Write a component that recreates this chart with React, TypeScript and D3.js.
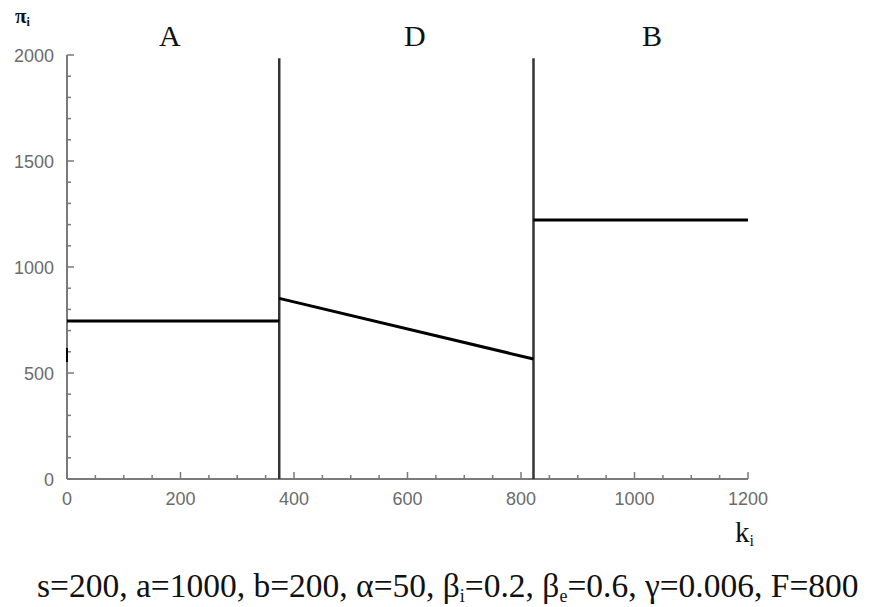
import React from "react";
import * as d3 from "d3";

const W = 875;
const H = 607;

// Data (k_i, pi_i)
const boundaries = [374, 822];
const boundaryTop = 1985;
const segA = [[0, 745], [374, 745]];
const segD = [[374, 852], [822, 566]];
const segB = [[822, 1222], [1200, 1222]];
const stub = [[0, 552], [0, 618]];
const regionNames = ["A", "D", "B"];
const regionK = [181, 613, 1031];
const xTicks = [0, 200, 400, 600, 800, 1000, 1200];
const yTicks = [0, 500, 1000, 1500, 2000];
const caption = "s=200, a=1000, b=200, α=50, β";

export default function App() {
  const x = d3.scaleLinear().domain([0, 1200]).range([67, 748]);
  const y = d3.scaleLinear().domain([0, 2000]).range([479, 55]);
  const line = d3.line<number[]>().x((d) => x(d[0])).y((d) => y(d[1]));
  const xMinor = d3.range(0, 1201, 50);
  const yMinor = d3.range(0, 2001, 100);
  const axisColor = "#7a7a7a";
  const tickColor = "#6b6b6b";
  const serif = "'Liberation Serif', 'DejaVu Serif', serif";
  const sans = "'Liberation Sans', Arial, sans-serif";
  return (
    <svg
      width={W}
      height={H}
      style={{ position: "absolute", left: 0, top: 0, background: "#fff" }}
    >
      {/* axes */}
      <line x1={x(0)} x2={x(1200)} y1={y(0)} y2={y(0)} stroke={axisColor} strokeWidth={2} />
      <line x1={x(0)} x2={x(0)} y1={y(0)} y2={y(2000)} stroke={axisColor} strokeWidth={2} />
      {xMinor.map((v) => (
        <line
          key={"xm" + v}
          x1={x(v)}
          x2={x(v)}
          y1={y(0)}
          y2={y(0) - (v % 200 === 0 ? 7 : 4)}
          stroke={axisColor}
          strokeWidth={1.5}
        />
      ))}
      {yMinor.map((v) => (
        <line
          key={"ym" + v}
          x1={x(0)}
          x2={x(0) + (v % 500 === 0 ? 7 : 4)}
          y1={y(v)}
          y2={y(v)}
          stroke={axisColor}
          strokeWidth={1.5}
        />
      ))}
      {xTicks.map((v) => (
        <text
          key={"xt" + v}
          x={x(v)}
          y={505}
          textAnchor="middle"
          fontFamily={sans}
          fontSize={19}
          fill={tickColor}
          textLength={String(v).length * 10}
          lengthAdjust="spacingAndGlyphs"
        >
          {v}
        </text>
      ))}
      {yTicks.map((v) => (
        <text
          key={"yt" + v}
          x={54}
          y={y(v) + 7}
          textAnchor="end"
          fontFamily={sans}
          fontSize={19}
          fill={tickColor}
          textLength={String(v).length * 10}
          lengthAdjust="spacingAndGlyphs"
        >
          {v}
        </text>
      ))}
      {/* boundaries */}
      {boundaries.map((b) => (
        <line
          key={"b" + b}
          x1={x(b)}
          x2={x(b)}
          y1={y(0)}
          y2={y(boundaryTop)}
          stroke="#333"
          strokeWidth={2.5}
        />
      ))}
      {/* profit segments */}
      {[segA, segD, segB].map((s, i) => (
        <path key={"s" + i} d={line(s) || ""} fill="none" stroke="#000" strokeWidth={3} />
      ))}
      <path d={line(stub) || ""} fill="none" stroke="#000" strokeWidth={2} />
      {/* region labels */}
      {regionNames.map((n, i) => (
        <text
          key={n}
          x={x(regionK[i])}
          y={46}
          textAnchor="middle"
          fontFamily={serif}
          fontSize={30}
          fill="#111"
        >
          {n}
        </text>
      ))}
      {/* axis titles */}
      <text x={15} y={23} fontFamily={serif} fontSize={21} fontWeight="bold" fill="#111">
        π<tspan fontSize={12} dy={3}>i</tspan>
      </text>
      <text x={735} y={542} fontFamily={serif} fontSize={29} fill="#111">
        k<tspan fontSize={16} dy={4}>i</tspan>
      </text>
      <text x={37} y={597} fontFamily={serif} fontSize={33.5} fill="#111">
        {caption}
        <tspan fontSize={18} dy={5}>i</tspan>
        <tspan dy={-5}>=0.2, β</tspan>
        <tspan fontSize={18} dy={5}>e</tspan>
        <tspan dy={-5}>=0.6, γ=0.006, F=800</tspan>
      </text>
    </svg>
  );
}
